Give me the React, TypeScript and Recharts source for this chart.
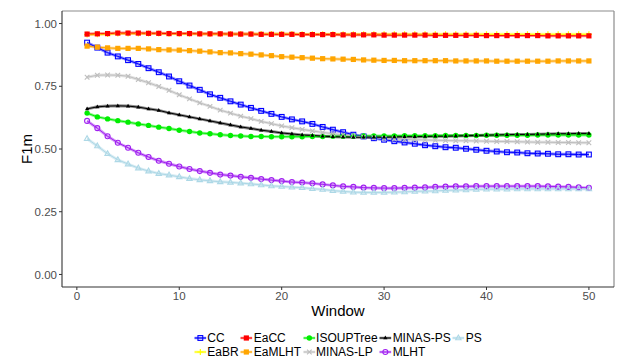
import React from "react";
import { LineChart, Line, XAxis, YAxis, ReferenceLine } from "recharts";

// Window index (x axis)
const windows = [
  1, 2, 3, 4, 5, 6, 7, 8, 9, 10, 11, 12, 13, 14, 15, 16, 17, 18, 19, 20, 21, 22, 23, 24, 25,
  26, 27, 28, 29, 30, 31, 32, 33, 34, 35, 36, 37, 38, 39, 40, 41, 42, 43, 44, 45, 46, 47, 48, 49, 50,
];

// F1m per window for each method
const ccValues = [
  0.924, 0.904, 0.884, 0.869, 0.854, 0.839, 0.822, 0.806, 0.789, 0.77, 0.753, 0.736, 0.718, 0.704, 0.69,
  0.677, 0.664, 0.652, 0.64, 0.628, 0.618, 0.61, 0.6, 0.588, 0.577, 0.567, 0.557, 0.55, 0.543, 0.537,
  0.531, 0.526, 0.521, 0.515, 0.511, 0.507, 0.505, 0.501, 0.497, 0.493, 0.49, 0.487, 0.486, 0.483, 0.482,
  0.481, 0.479, 0.479, 0.478, 0.478,
];
const eaBRValues = [
  0.956, 0.957, 0.958, 0.96, 0.96, 0.96, 0.96, 0.96, 0.959, 0.959, 0.959, 0.959, 0.958, 0.958, 0.958,
  0.958, 0.958, 0.958, 0.958, 0.958, 0.958, 0.957, 0.957, 0.957, 0.957, 0.957, 0.957, 0.957, 0.957, 0.957,
  0.957, 0.957, 0.957, 0.957, 0.957, 0.957, 0.957, 0.957, 0.957, 0.957, 0.957, 0.957, 0.957, 0.957, 0.957,
  0.957, 0.957, 0.957, 0.957, 0.957,
];
const eaCCValues = [
  0.958, 0.959, 0.96, 0.962, 0.962, 0.962, 0.961, 0.961, 0.96, 0.96, 0.96, 0.959, 0.959, 0.959, 0.958,
  0.958, 0.958, 0.957, 0.957, 0.957, 0.957, 0.956, 0.956, 0.956, 0.956, 0.955, 0.955, 0.955, 0.955, 0.954,
  0.954, 0.954, 0.954, 0.954, 0.953, 0.953, 0.953, 0.953, 0.953, 0.952, 0.952, 0.952, 0.952, 0.952, 0.952,
  0.951, 0.951, 0.951, 0.951, 0.951,
];
const eaMLHTValues = [
  0.91, 0.906, 0.903, 0.901, 0.901, 0.901, 0.899, 0.896, 0.895, 0.894, 0.892, 0.89, 0.887, 0.884, 0.883,
  0.88, 0.878, 0.875, 0.872, 0.868, 0.866, 0.864, 0.862, 0.86, 0.859, 0.858, 0.857, 0.855, 0.854, 0.853,
  0.853, 0.852, 0.852, 0.852, 0.852, 0.852, 0.851, 0.851, 0.851, 0.851, 0.85, 0.85, 0.85, 0.85, 0.85,
  0.85, 0.851, 0.851, 0.851, 0.851,
];
const isoupTreeValues = [
  0.643, 0.628, 0.62, 0.613, 0.607, 0.6, 0.594, 0.587, 0.582, 0.575, 0.57, 0.564, 0.561, 0.557, 0.554,
  0.552, 0.55, 0.55, 0.549, 0.549, 0.549, 0.549, 0.55, 0.55, 0.551, 0.551, 0.551, 0.552, 0.552, 0.552,
  0.552, 0.553, 0.553, 0.553, 0.553, 0.554, 0.554, 0.554, 0.554, 0.555, 0.555, 0.555, 0.555, 0.555, 0.556,
  0.556, 0.556, 0.556, 0.556, 0.556,
];
const minasLPValues = [
  0.786, 0.794, 0.795, 0.794, 0.79, 0.777, 0.764, 0.749, 0.734, 0.716, 0.7, 0.684, 0.67, 0.655, 0.643,
  0.631, 0.621, 0.61, 0.601, 0.592, 0.585, 0.578, 0.572, 0.566, 0.561, 0.556, 0.552, 0.548, 0.545, 0.542,
  0.54, 0.538, 0.537, 0.536, 0.535, 0.534, 0.533, 0.533, 0.532, 0.531, 0.53, 0.53, 0.529, 0.528, 0.527,
  0.527, 0.526, 0.526, 0.525, 0.525,
];
const minasPSValues = [
  0.66, 0.668, 0.671, 0.672, 0.671, 0.667, 0.66, 0.654, 0.644, 0.636, 0.628, 0.62, 0.612, 0.604, 0.596,
  0.588, 0.582, 0.575, 0.57, 0.564, 0.56, 0.556, 0.554, 0.551, 0.549, 0.548, 0.547, 0.547, 0.547, 0.547,
  0.548, 0.549, 0.549, 0.55, 0.551, 0.551, 0.552, 0.553, 0.554, 0.555, 0.556, 0.557, 0.558, 0.558, 0.559,
  0.56, 0.561, 0.561, 0.562, 0.562,
];
const mlhtValues = [
  0.612, 0.583, 0.551, 0.525, 0.505, 0.485, 0.468, 0.453, 0.441, 0.43, 0.42, 0.412, 0.405, 0.398, 0.394,
  0.389, 0.385, 0.38, 0.376, 0.372, 0.368, 0.366, 0.363, 0.359, 0.355, 0.351, 0.349, 0.346, 0.345, 0.344,
  0.344, 0.345, 0.346, 0.347, 0.349, 0.35, 0.351, 0.351, 0.352, 0.352, 0.352, 0.352, 0.352, 0.352, 0.352,
  0.351, 0.35, 0.349, 0.347, 0.345,
];
const psValues = [
  0.541, 0.512, 0.481, 0.457, 0.44, 0.424, 0.412, 0.402, 0.396, 0.389, 0.382, 0.377, 0.373, 0.369, 0.367,
  0.364, 0.361, 0.357, 0.353, 0.351, 0.348, 0.346, 0.342, 0.339, 0.334, 0.331, 0.328, 0.327, 0.327, 0.327,
  0.328, 0.329, 0.331, 0.332, 0.333, 0.335, 0.336, 0.337, 0.339, 0.34, 0.34, 0.34, 0.341, 0.341, 0.341,
  0.341, 0.341, 0.341, 0.341, 0.341,
];

const xTicks = [0, 10, 20, 30, 40, 50];
const yTicks = [0, 0.25, 0.5, 0.75, 1];

type Shape =
  | "openSquare"
  | "square"
  | "circle"
  | "triangle"
  | "openTriangle"
  | "plus"
  | "cross"
  | "openCircle";

interface SeriesDef {
  name: string;
  values: number[];
  color: string;
  shape: Shape;
}

// Methods in factor (alphabetical) order
const series: SeriesDef[] = [
  { name: "CC", values: ccValues, color: "#0000FF", shape: "openSquare" },
  { name: "EaBR", values: eaBRValues, color: "#FFFF00", shape: "plus" },
  { name: "EaCC", values: eaCCValues, color: "#FF0000", shape: "square" },
  { name: "EaMLHT", values: eaMLHTValues, color: "#FFA500", shape: "square" },
  { name: "ISOUPTree", values: isoupTreeValues, color: "#00EE00", shape: "circle" },
  { name: "MINAS-LP", values: minasLPValues, color: "#BEBEBE", shape: "cross" },
  { name: "MINAS-PS", values: minasPSValues, color: "#000000", shape: "triangle" },
  { name: "MLHT", values: mlhtValues, color: "#A020F0", shape: "openCircle" },
  { name: "PS", values: psValues, color: "#ADD8E6", shape: "openTriangle" },
];

const chartData = windows.map((w, i) => {
  const row: Record<string, number> = { window: w };
  series.forEach((s) => {
    row[s.name] = s.values[i];
  });
  return row;
});

function Marker({ cx, cy, shape, color }: { cx?: number; cy?: number; shape: Shape; color: string }) {
  if (cx == null || cy == null || isNaN(cx) || isNaN(cy)) return null;
  switch (shape) {
    case "openSquare":
      return <rect x={cx - 2.4} y={cy - 2.4} width={4.8} height={4.8} fill="none" stroke={color} strokeWidth={1.1} />;
    case "square":
      return <rect x={cx - 2.6} y={cy - 2.6} width={5.2} height={5.2} fill={color} />;
    case "circle":
      return <circle cx={cx} cy={cy} r={2.7} fill={color} />;
    case "triangle":
      return <path d={`M${cx},${cy - 2.4}L${cx + 2.1},${cy + 1.3}L${cx - 2.1},${cy + 1.3}Z`} fill={color} />;
    case "openTriangle":
      return (
        <path
          d={`M${cx},${cy - 3}L${cx + 2.7},${cy + 1.8}L${cx - 2.7},${cy + 1.8}Z`}
          fill="none"
          stroke={color}
          strokeWidth={1.1}
        />
      );
    case "plus":
      return (
        <path d={`M${cx - 3},${cy}H${cx + 3}M${cx},${cy - 3}V${cy + 3}`} stroke={color} strokeWidth={1.2} fill="none" />
      );
    case "cross":
      return (
        <path
          d={`M${cx - 2.3},${cy - 2.3}L${cx + 2.3},${cy + 2.3}M${cx - 2.3},${cy + 2.3}L${cx + 2.3},${cy - 2.3}`}
          stroke={color}
          strokeWidth={1.1}
          fill="none"
        />
      );
    case "openCircle":
      return <circle cx={cx} cy={cy} r={2.5} fill="none" stroke={color} strokeWidth={1.1} />;
    default:
      return null;
  }
}

const FONT = "'Liberation Sans', Arial, Helvetica, sans-serif";

function LegendKey({ s }: { s: SeriesDef }) {
  return (
    <svg width={12} height={12} style={{ display: "block", flex: "none" }}>
      <line x1={0} y1={6} x2={12} y2={6} stroke={s.color} strokeWidth={2.6} strokeOpacity={0.45} />
      <line x1={0} y1={6} x2={12} y2={6} stroke={s.color} strokeWidth={1} />
      <Marker cx={6} cy={6} shape={s.shape} color={s.color} />
    </svg>
  );
}

// Legend is filled column by column, two rows
const legendColumns: SeriesDef[][] = [];
for (let i = 0; i < series.length; i += 2) legendColumns.push(series.slice(i, i + 2));

export default function App() {
  return (
    <div style={{ position: "relative", width: 620, height: 360, background: "#fff", fontFamily: FONT }}>
      <style>{"body{margin:0;}"}</style>
      <LineChart
        width={620}
        height={360}
        data={chartData}
        margin={{ top: 11, right: 6, bottom: 0, left: 0 }}
        style={{ fontFamily: FONT }}
      >
        <XAxis
          dataKey="window"
          type="number"
          domain={[-1.45, 52.45]}
          ticks={xTicks}
          allowDataOverflow
          height={73}
          tickSize={3}
          tickMargin={2}
          axisLine={{ stroke: "#333333", strokeWidth: 1.1 }}
          tickLine={{ stroke: "#333333" }}
          tick={{ fill: "#4d4d4d", fontSize: 11.5 }}
          label={{ value: "Window", position: "insideBottom", offset: 44, fill: "#000", fontSize: 15 }}
        />
        <YAxis
          type="number"
          domain={[-0.05, 1.05]}
          ticks={yTicks}
          allowDataOverflow
          width={62}
          tickSize={3}
          tickMargin={2}
          tickFormatter={(v: number) => v.toFixed(2)}
          axisLine={{ stroke: "#333333", strokeWidth: 1.1 }}
          tickLine={{ stroke: "#333333" }}
          tick={{ fill: "#4d4d4d", fontSize: 11.5 }}
          label={{
            value: "F1m",
            angle: -90,
            position: "insideLeft",
            offset: 27,
            fill: "#000",
            fontSize: 15,
            style: { textAnchor: "middle" },
          }}
        />
        <ReferenceLine y={1.05} stroke="#8c8c8c" strokeWidth={1.2} />
        <ReferenceLine x={52.45} stroke="#8c8c8c" strokeWidth={1.2} />
        {series.map((s) => (
          <Line
            key={`${s.name}-band`}
            dataKey={s.name}
            stroke={s.color}
            strokeOpacity={0.45}
            strokeWidth={3}
            dot={false}
            activeDot={false}
            legendType="none"
            type="linear"
            isAnimationActive={false}
          />
        ))}
        {series.map((s) => (
          <Line
            key={s.name}
            dataKey={s.name}
            stroke={s.color}
            strokeWidth={1}
            type="linear"
            activeDot={false}
            isAnimationActive={false}
            dot={(p: any) => (
              <Marker key={`${s.name}-${p.index}`} cx={p.cx} cy={p.cy} shape={s.shape} color={s.color} />
            )}
          />
        ))}
      </LineChart>
      <div
        style={{
          position: "absolute",
          top: 331,
          left: 338,
          transform: "translateX(-50%)",
          display: "flex",
          fontSize: 12,
          color: "#000",
          whiteSpace: "nowrap",
        }}
      >
        {legendColumns.map((col, ci) => (
          <div key={ci} style={{ display: "flex", flexDirection: "column", marginRight: ci < legendColumns.length - 1 ? 2 : 0 }}>
            {col.map((s) => (
              <div key={s.name} style={{ display: "flex", alignItems: "center", height: 14 }}>
                <LegendKey s={s} />
                <span style={{ marginLeft: 1, lineHeight: "14px" }}>{s.name}</span>
              </div>
            ))}
          </div>
        ))}
      </div>
    </div>
  );
}
